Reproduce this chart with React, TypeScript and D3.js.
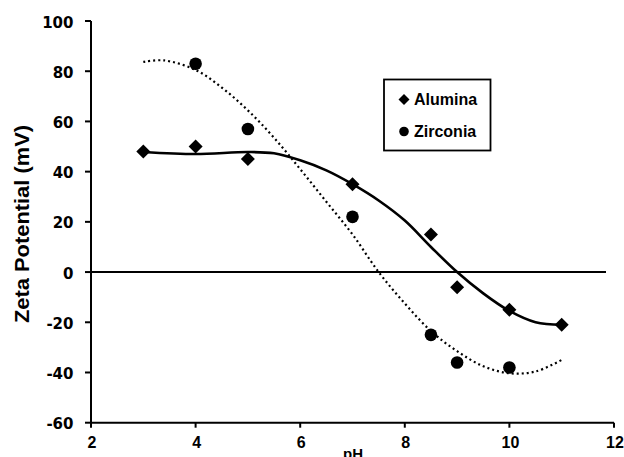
import React from 'react';
import * as d3 from 'd3';

// measured points
const aluminaPH = [3, 4, 5, 7, 8.5, 9, 10, 11];
const aluminaZeta = [48, 50, 45, 35, 15, -6, -15, -21];
const zirconiaPH = [4, 5, 7, 8.5, 9, 10];
const zirconiaZeta = [83, 57, 22, -25, -36, -38];

// trend lines
const aluminaFitPH = [3, 4, 5, 5.5, 6, 6.5, 7, 7.5, 8, 8.5, 9, 9.5, 10, 10.5, 11];
const aluminaFitZeta = [47.8, 47, 47.8, 47.3, 44.5, 40.5, 35, 28.5, 20.5, 10, 0, -8.5, -15.5, -20, -21];
const zirconiaFitPH = [3, 3.4, 4, 4.5, 5, 5.5, 6, 6.5, 7, 7.5, 8, 8.5, 9, 9.5, 10, 10.5, 11];
const zirconiaFitZeta = [83.7, 84.3, 80.5, 73.5, 64.4, 53.5, 41, 28, 15, 0, -12.5, -23.5, -31.5, -37.5, -40.3, -39.6, -35];

const xTicks = [2, 4, 6, 8, 10, 12];
const yTicks = [-60, -40, -20, 0, 20, 40, 60, 80, 100];
const legendLabels = ['Alumina', 'Zirconia'];

const W = 624;
const H = 457;
const FONT = '"Liberation Sans", Arial, sans-serif';

const App: React.FC = () => {
  const x = d3.scaleLinear().domain([2, 12]).range([91, 614]);
  const y = d3.scaleLinear().domain([-60, 100]).range([422.7, 21]);

  const line = d3.line<[number, number]>()
    .x(d => x(d[0]))
    .y(d => y(d[1]))
    .curve(d3.curveCatmullRom.alpha(0.5));

  const aluminaFit = aluminaFitPH.map((p, i) => [p, aluminaFitZeta[i]] as [number, number]);
  const zirconiaFit = zirconiaFitPH.map((p, i) => [p, zirconiaFitZeta[i]] as [number, number]);

  const diamond = (cx: number, cy: number, r: number) =>
    `M${cx},${cy - r}L${cx + r},${cy}L${cx},${cy + r}L${cx - r},${cy}Z`;

  return (
    <div style={{ position: 'absolute', left: 0, top: 0 }}>
      <svg width={W} height={H} style={{ display: 'block', background: '#fff' }} fontFamily={FONT}>
        {/* zero line */}
        <line x1={x(2)} x2={606} y1={y(0)} y2={y(0)} stroke="#000" strokeWidth={2} />

        {/* axes */}
        <line x1={x(2)} x2={x(2)} y1={y(100)} y2={y(-60)} stroke="#000" strokeWidth={2} />
        <line x1={x(2)} x2={x(12)} y1={y(-60)} y2={y(-60)} stroke="#000" strokeWidth={2} />
        {yTicks.map(t => (
          <g key={'y' + t}>
            <line x1={x(2) - 6} x2={x(2)} y1={y(t)} y2={y(t)} stroke="#000" strokeWidth={2} />
            <text x={73.5} y={y(t) + 6.5} textAnchor="end" fontSize={15} fontWeight="bold"
              fontFamily='"DejaVu Sans", sans-serif'>{t}</text>
          </g>
        ))}
        {xTicks.map(t => (
          <g key={'x' + t}>
            <line x1={x(t)} x2={x(t)} y1={y(-60)} y2={y(-60) + 5} stroke="#000" strokeWidth={2} />
            <text x={x(t) + 1} y={448.3} textAnchor="middle" fontSize={16} fontWeight="bold">{t}</text>
          </g>
        ))}
        <text x={353} y={459} textAnchor="middle" fontSize={15} fontWeight="bold">pH</text>
        <text transform={`translate(29,224) rotate(-90)`} textAnchor="middle" fontSize={20} fontWeight="bold"
          textLength={198} lengthAdjust="spacingAndGlyphs">
          Zeta Potential (mV)
        </text>

        {/* fit curves */}
        <path d={line(zirconiaFit) || ''} fill="none" stroke="#000" strokeWidth={2.2} strokeDasharray="2,3" />
        <path d={line(aluminaFit) || ''} fill="none" stroke="#000" strokeWidth={2.6} />

        {/* data markers */}
        {aluminaPH.map((p, i) => (
          <path key={'a' + i} d={diamond(x(p), y(aluminaZeta[i]), 7)} fill="#000" />
        ))}
        {zirconiaPH.map((p, i) => (
          <circle key={'z' + i} cx={x(p)} cy={y(zirconiaZeta[i])} r={6.3} fill="#000" />
        ))}

        {/* legend */}
        <rect x={384} y={79.5} width={106.5} height={71} fill="#fff" stroke="#000" strokeWidth={1.8} />
        <path d={diamond(404, 99.5, 5.5)} fill="#000" />
        <circle cx={404} cy={131.5} r={4.8} fill="#000" />
        <text x={414} y={105} fontSize={16} fontWeight="bold">{legendLabels[0]}</text>
        <text x={414} y={137} fontSize={16} fontWeight="bold">{legendLabels[1]}</text>
      </svg>
    </div>
  );
};

export default App;
